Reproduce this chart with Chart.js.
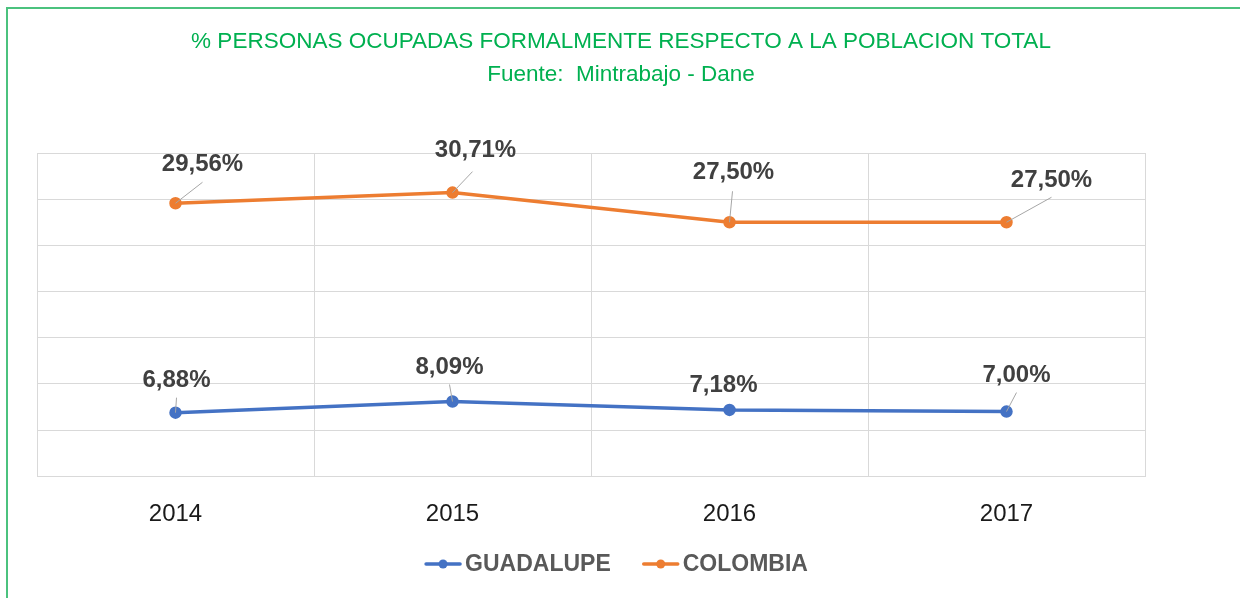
<!DOCTYPE html>
<html>
<head>
<meta charset="utf-8">
<script src="https://cdn.jsdelivr.net/npm/chart.js@4.4.1/dist/chart.umd.min.js"></script>
<style>
 html,body{margin:0;padding:0;background:#fff;overflow:hidden;}
 #frame{position:absolute;left:6px;top:7px;width:1400px;height:800px;border:2px solid #4BC27E;}
 #wrap{position:absolute;left:0;top:0;width:1240px;height:598px;}
</style>
</head>
<body>
<div id="frame"></div>
<div id="wrap"><canvas id="chart"></canvas></div>
<script>
// Data
var years = ["2014","2015","2016","2017"];
var guadalupe = [6.88, 8.09, 7.18, 7.00];
var colombia = [29.56, 30.71, 27.50, 27.50];
var yTicks = [0, 5, 10, 15, 20, 25, 30, 35];
var titleLines = ["% PERSONAS OCUPADAS FORMALMENTE RESPECTO A LA POBLACION TOTAL", "Fuente:  Mintrabajo - Dane"];

var BLUE = "#4472C4";
var ORANGE = "#ED7D31";
var FONT = "'Liberation Sans', Arial, sans-serif";

// label placement (offset of label centre and leader end from the point, px)
var labelPos = [
 // guadalupe
 [{dx:1,dy:-32,lx:1,ly:-15},{dx:-3,dy:-34,lx:-3,ly:-17},{dx:-6,dy:-25,lx:0,ly:0},{dx:10,dy:-36,lx:10,ly:-19}],
 // colombia
 [{dx:27,dy:-39,lx:27,ly:-21},{dx:23,dy:-42,lx:20,ly:-21},{dx:4,dy:-50,lx:3,ly:-31},{dx:45,dy:-42,lx:45,ly:-25}]
];

var dataLabels = {
 id: 'dataLabels',
 afterDatasetsDraw: function(chart){
  var ctx = chart.ctx;
  ctx.save();
  chart.data.datasets.forEach(function(ds, i){
   var meta = chart.getDatasetMeta(i);
   meta.data.forEach(function(pt, j){
    var p = labelPos[i][j];
    if (p.lx || p.ly) {
     ctx.strokeStyle = "#A6A6A6";
     ctx.lineWidth = 1;
     ctx.beginPath();
     ctx.moveTo(pt.x, pt.y);
     ctx.lineTo(pt.x + p.lx, pt.y + p.ly);
     ctx.stroke();
    }
    ctx.fillStyle = "#404040";
    ctx.font = "bold 24px " + FONT;
    ctx.textAlign = "center";
    ctx.textBaseline = "middle";
    ctx.fillText(ds.data[j].toFixed(2).replace('.', ',') + '%', pt.x + p.dx, pt.y + p.dy);
   });
  });
  ctx.restore();
 }
};

// title and legend, centred on the whole frame rather than the plot
var chartText = {
 id: 'chartText',
 afterDraw: function(chart){
  var ctx = chart.ctx;
  ctx.save();
  ctx.fillStyle = "#00B050";
  ctx.font = "22.5px " + FONT;
  ctx.textAlign = "center";
  ctx.textBaseline = "middle";
  ctx.fillText(titleLines[0], 621, 42);
  ctx.fillText(titleLines[1], 621, 75);

  // legend
  ctx.font = "bold 23px " + FONT;
  var items = chart.data.datasets.map(function(ds){
   return {text: ds.label, color: ds.borderColor, w: ctx.measureText(ds.label).width};
  });
  var total = 0;
  items.forEach(function(it, k){ total += 38 + 4 + it.w + (k ? 31 : 0); });
  var x = 617 - total / 2, y = 564;
  items.forEach(function(it){
   ctx.strokeStyle = it.color;
   ctx.lineWidth = 3.5;
   ctx.lineCap = 'round';
   ctx.beginPath(); ctx.moveTo(x + 2, y); ctx.lineTo(x + 36, y); ctx.stroke();
   ctx.fillStyle = it.color;
   ctx.beginPath(); ctx.arc(x + 19, y, 4.5, 0, Math.PI * 2); ctx.fill();
   ctx.fillStyle = "#595959";
   ctx.textAlign = "left";
   ctx.fillText(it.text, x + 41, y + 1);
   x += 41 + it.w + 31;
  });
  ctx.restore();
 }
};

var ctx = document.getElementById('chart');

new Chart(ctx,{
 type:'line',
 data:{
  labels: years,
  datasets:[
   {
    label:"GUADALUPE",
    data: guadalupe,
    borderColor: BLUE,
    backgroundColor: BLUE,
    borderWidth: 3.5,
    pointRadius: 4.5,
    pointHoverRadius: 4.5
   },
   {
    label:"COLOMBIA",
    data: colombia,
    borderColor: ORANGE,
    backgroundColor: ORANGE,
    borderWidth: 3.5,
    pointRadius: 4.5,
    pointHoverRadius: 4.5
   }
  ]
 },
 options:{
  responsive:true,
  maintainAspectRatio:false,
  animation:false,
  layout:{padding:{left:37,right:95,top:153,bottom:45}},
  scales:{
   x:{
    offset:true,
    grid:{offset:true,color:"#D9D9D9",drawTicks:false},
    border:{color:"#D9D9D9"},
    ticks:{color:"#1a1a1a",padding:24,font:{family:FONT,size:24,lineHeight:1.2}}
   },
   y:{
    min:0,
    max:35,
    afterBuildTicks:function(axis){ axis.ticks = yTicks.map(function(v){return {value:v};}); },
    grid:{color:"#D9D9D9",drawTicks:false},
    border:{display:false},
    ticks:{display:false}
   }
  },
  plugins:{
   title:{display:false},
   legend:{display:false},
   tooltip:{enabled:false}
  }
 },
 plugins:[dataLabels, chartText]
});
</script>
</body>
</html>
